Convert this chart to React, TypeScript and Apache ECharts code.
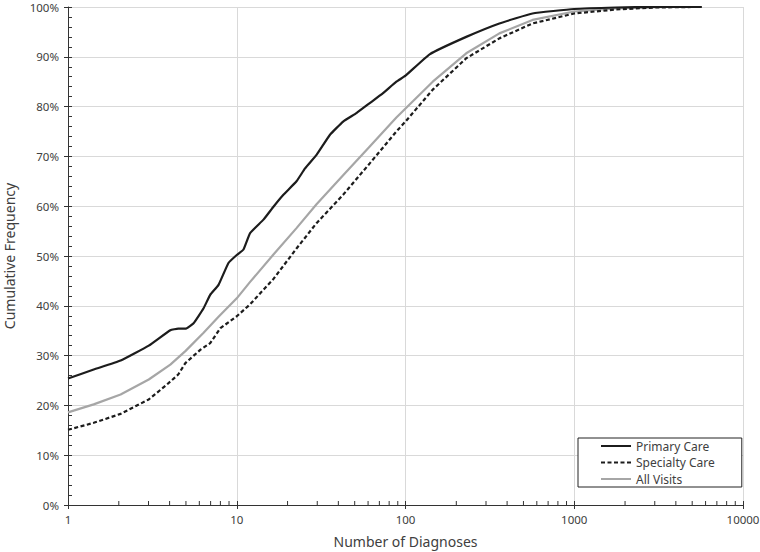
import React, { useEffect, useRef } from "react";
import * as echarts from "echarts";

const primaryX = [1, 1.42, 2.05, 3.01, 4.04, 4.5, 4.96, 5.55, 6.36, 6.96, 7.8, 8.93, 10, 10.96, 12, 14.4, 16.5, 18.9, 22.6, 25.4, 29.7, 35.6, 42.7, 51.2, 61.4, 73.6, 88.3, 100, 139, 229, 360, 566, 1000, 1760, 3000, 5700];
const primaryY = [25.4, 27.2, 29.0, 32.0, 35.1, 35.4, 35.4, 36.5, 39.5, 42.2, 44.2, 48.6, 50.2, 51.3, 54.6, 57.3, 59.9, 62.3, 65.0, 67.6, 70.3, 74.3, 77.0, 78.7, 80.7, 82.7, 85.0, 86.2, 90.5, 94.0, 96.7, 98.7, 99.6, 99.9, 100, 100];

const specialtyX = [1, 1.42, 2.05, 3.01, 3.86, 4.5, 4.96, 6.1, 6.96, 8.0, 10, 12, 16.5, 22.6, 29.7, 42.7, 61.4, 88.3, 100, 145, 229, 360, 566, 1000, 1760, 3000, 5000];
const specialtyY = [15.1, 16.5, 18.3, 21.2, 24.2, 26.2, 28.5, 31.2, 32.5, 35.5, 37.9, 40.3, 45.4, 51.5, 56.6, 62.3, 68.6, 75.0, 77.0, 83.4, 89.7, 93.7, 96.7, 98.7, 99.5, 99.9, 100];

const allX = [1, 1.42, 2.05, 3.01, 4.04, 4.96, 6.36, 7.8, 10, 12, 16.5, 22.6, 29.7, 42.7, 61.4, 88.3, 145, 229, 360, 566, 1000, 1760, 3470, 5700];
const allY = [18.6, 20.2, 22.2, 25.2, 28.2, 30.9, 34.6, 37.8, 41.5, 44.8, 50.3, 55.6, 60.4, 66.2, 72.0, 77.8, 85.0, 90.7, 94.7, 97.4, 99.1, 99.7, 100, 100];

const seriesNames = ["Primary Care", "Specialty Care", "All Visits"];
const xMinorTicks = [2, 3, 4, 5, 6, 7, 8, 9, 20, 30, 40, 50, 60, 70, 80, 90, 200, 300, 400, 500, 600, 700, 800, 900, 2000, 3000, 4000, 5000, 6000, 7000, 8000, 9000];

const FONT = "Noto Sans";
const TXT = "#404040";
const AX = "#333333";

const zip = (xs: number[], ys: number[]) => xs.map((x, i) => [x, ys[i]]);

export default function App() {
  const ref = useRef<HTMLDivElement>(null);
  useEffect(() => {
    document.body.style.margin = "0";
    if (!ref.current) return;
    const chart = echarts.init(ref.current, null, { renderer: "svg" });
    chart.setOption({
      animation: false,
      textStyle: { fontFamily: FONT },
      grid: { left: 68, right: 17, top: 7, bottom: 47, outerBoundsMode: "none", containLabel: false },
      legend: {
        data: seriesNames,
        orient: "vertical",
        left: 578,
        top: 438,
        itemWidth: 30,
        itemHeight: 14,
        itemGap: 4.5,
        padding: [2, 27, 2, 22],
        borderColor: "#222",
        borderWidth: 1,
        backgroundColor: "#fff",
        itemStyle: { opacity: 0 },
        textStyle: { fontFamily: FONT, fontSize: 12, color: TXT },
      },
      xAxis: [
        {
          type: "log",
          logBase: 10,
          min: 1,
          max: 10000,
          splitNumber: 4,
          name: "Number of Diagnoses",
          nameLocation: "middle",
          nameGap: 29,
          nameTextStyle: { fontFamily: FONT, fontSize: 14, color: TXT },
          axisLine: { show: true, lineStyle: { color: AX, width: 1 } },
          axisTick: { show: true, inside: true, length: 4, lineStyle: { color: AX } },
          minorTick: { show: false },
          axisLabel: {
            fontFamily: FONT,
            fontSize: 11.5,
            color: TXT,
            margin: 8,
            formatter: (v: number) => String(Math.round(v)),
          },
          splitLine: { show: true, lineStyle: { color: "#d9d9d9", width: 1 } },
        },
        {
          type: "log",
          logBase: 10,
          min: 1,
          max: 10000,
          splitNumber: 4,
          position: "bottom",
          axisLine: { show: false },
          axisTick: { show: true, inside: false, length: 4, lineStyle: { color: AX } },
          axisLabel: { show: false },
          splitLine: { show: false },
        },
      ],
      yAxis: [
        {
          type: "value",
          min: 0,
          max: 100,
          interval: 10,
          name: "Cumulative Frequency",
          nameLocation: "middle",
          nameGap: 52,
          nameTextStyle: { fontFamily: FONT, fontSize: 14, color: TXT },
          axisLine: { show: true, lineStyle: { color: AX, width: 1 } },
          axisTick: { show: true, inside: true, length: 4, lineStyle: { color: AX } },
          minorTick: { show: true, splitNumber: 5, length: 4, lineStyle: { color: AX, width: 1 } },
          axisLabel: {
            fontFamily: FONT,
            fontSize: 11.5,
            color: TXT,
            margin: 9,
            formatter: "{value}%",
          },
          splitLine: { show: true, lineStyle: { color: "#d9d9d9", width: 1 } },
        },
        {
          type: "value",
          min: 0,
          max: 100,
          interval: 10,
          position: "left",
          axisLine: { show: false },
          axisTick: { show: true, inside: false, length: 4, lineStyle: { color: AX } },
          axisLabel: { show: false },
          splitLine: { show: false },
        },
      ],
      series: [
        {
          name: "Primary Care",
          type: "line",
          data: zip(primaryX, primaryY),
          showSymbol: false,
          symbol: "none",
          smooth: 0.12,
          lineStyle: { color: "#1c1c1c", width: 2.2 },
          itemStyle: { color: "#1c1c1c" },
          z: 4,
        },
        {
          name: "Specialty Care",
          type: "line",
          data: zip(specialtyX, specialtyY),
          showSymbol: false,
          symbol: "none",
          smooth: false,
          lineStyle: { color: "#1c1c1c", width: 2.2, type: [4, 2.5] },
          itemStyle: { color: "#1c1c1c" },
          z: 3,
        },
        {
          name: "All Visits",
          type: "line",
          data: zip(allX, allY),
          showSymbol: false,
          symbol: "none",
          smooth: false,
          lineStyle: { color: "#a6a6a6", width: 2.2 },
          itemStyle: { color: "#a6a6a6" },
          z: 2,
        },
        {
          type: "custom",
          silent: true,
          xAxisIndex: 0,
          yAxisIndex: 0,
          clip: false,
          data: xMinorTicks.map((v) => [v, 0]),
          renderItem: (params: any, api: any) => {
            const p = api.coord([api.value(0), api.value(1)]);
            return {
              type: "line",
              shape: { x1: p[0], y1: p[1], x2: p[0], y2: p[1] - 4 },
              style: { stroke: AX, lineWidth: 1 },
            };
          },
          z: 5,
        },
      ],
    });
    return () => chart.dispose();
  }, []);
  return <div ref={ref} style={{ width: 760, height: 552 }} />;
}
